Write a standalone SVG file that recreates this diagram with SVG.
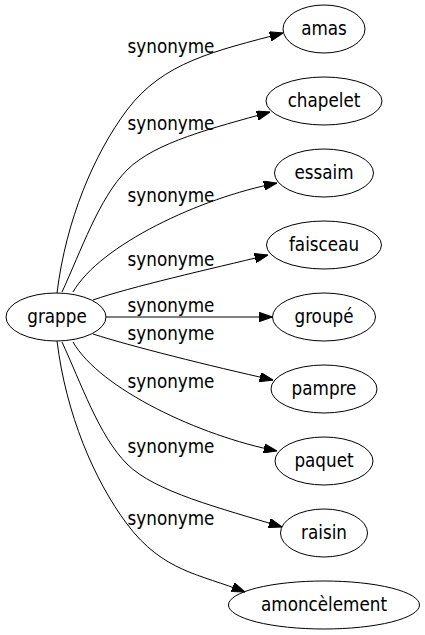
<svg xmlns="http://www.w3.org/2000/svg" width="425" height="635" viewBox="0 0 425 635">
<style>
  .node ellipse { fill: none; stroke: #000; stroke-width: 1; }
  .node text { font-family: "DejaVu Sans Condensed", "DejaVu Sans", sans-serif; font-stretch: condensed; font-size: 18.67px; text-anchor: middle; fill: #000; }
  .edge path { fill: none; stroke: #000; stroke-width: 1; marker-end: url(#arrow); }
  .edge text { font-family: "DejaVu Sans Condensed", "DejaVu Sans", sans-serif; font-stretch: condensed; font-size: 18.67px; text-anchor: middle; fill: #000; }
</style>
<defs>
  <marker id="arrow" viewBox="0 0 13.3 9.4" refX="13.3" refY="4.7" markerWidth="13.3" markerHeight="9.4" markerUnits="userSpaceOnUse" orient="auto">
    <path d="M0,0 L13.3,4.7 L0,9.4 z" fill="#000" stroke="#000" stroke-width="1"/>
  </marker>
</defs>
<rect width="425" height="635" fill="#fff"/>
<g id="edges">
  <g class="edge" id="e1"><path d="M57,293 C66,220 94,154 127,110 C163,62 215,51 283,33"/><text x="171" y="53">synonyme</text></g>
  <g class="edge" id="e2"><path d="M62,292 C81,251 99,198 127,170 C155,142 213,128 270,112"/><text x="171" y="130">synonyme</text></g>
  <g class="edge" id="e3"><path d="M73,292 C100,245 200,198 277,183"/><text x="171" y="202">synonyme</text></g>
  <g class="edge" id="e4"><path d="M93,300 C130,287 210,269 268,255"/><text x="171" y="266">synonyme</text></g>
  <g class="edge" id="e5"><path d="M106,317 L272.5,317"/><text x="171" y="312">synonyme</text></g>
  <g class="edge" id="e6"><path d="M93,334 C130,346 210,366 273,380"/><text x="171" y="340">synonyme</text></g>
  <g class="edge" id="e7"><path d="M73,342 C100,389 200,436 277,451"/><text x="171" y="388">synonyme</text></g>
  <g class="edge" id="e8"><path d="M62,342 C81,383 99,436 127,464 C155,492 220,508 282,527"/><text x="171" y="453">synonyme</text></g>
  <g class="edge" id="e9"><path d="M57,341 C66,414 94,480 127,524 C163,572 200,574 245,592"/><text x="171" y="525">synonyme</text></g>
</g>
<g class="node" id="grappe"><ellipse cx="56" cy="317" rx="50" ry="24"/><text x="57" y="323">grappe</text></g>
<g class="node" id="amas"><ellipse cx="324" cy="29" rx="41" ry="24"/><text x="324" y="35">amas</text></g>
<g class="node" id="chapelet"><ellipse cx="324" cy="101" rx="58" ry="24"/><text x="324" y="107">chapelet</text></g>
<g class="node" id="essaim"><ellipse cx="324" cy="173" rx="49.5" ry="24"/><text x="324" y="179">essaim</text></g>
<g class="node" id="faisceau"><ellipse cx="324" cy="245" rx="57.5" ry="24"/><text x="324" y="251">faisceau</text></g>
<g class="node" id="groupe"><ellipse cx="324" cy="317" rx="51.5" ry="24"/><text x="324" y="323">groupé</text></g>
<g class="node" id="pampre"><ellipse cx="324" cy="389" rx="53" ry="24"/><text x="324" y="395">pampre</text></g>
<g class="node" id="paquet"><ellipse cx="324" cy="461" rx="49" ry="24"/><text x="324" y="467">paquet</text></g>
<g class="node" id="raisin"><ellipse cx="324" cy="533" rx="43.5" ry="24"/><text x="324" y="539">raisin</text></g>
<g class="node" id="amoncelement"><ellipse cx="324" cy="605" rx="95.5" ry="24"/><text x="324" y="611">amoncèlement</text></g>
</svg>
